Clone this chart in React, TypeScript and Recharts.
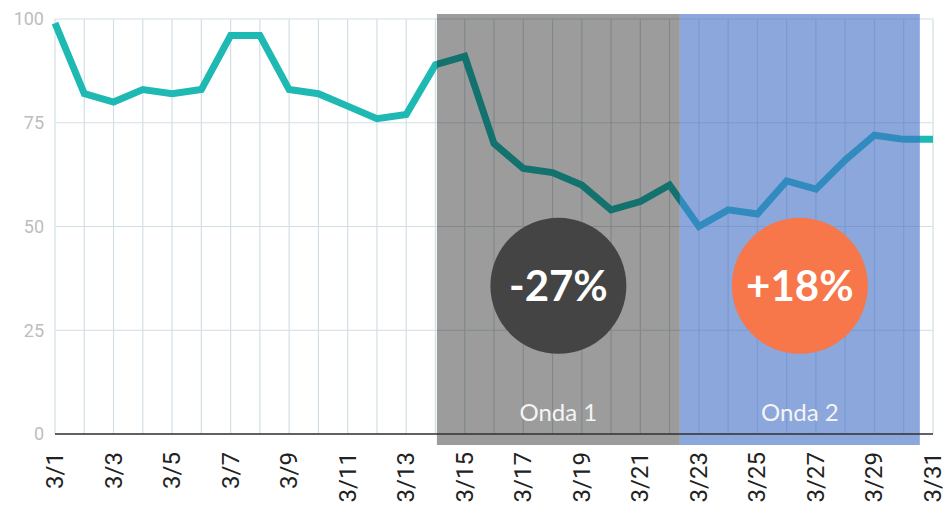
import React from 'react';
import { LineChart, Line, XAxis, YAxis, CartesianGrid, ReferenceArea, ReferenceDot } from 'recharts';

const days = [
  '3/1', '3/2', '3/3', '3/4', '3/5', '3/6', '3/7', '3/8', '3/9', '3/10',
  '3/11', '3/12', '3/13', '3/14', '3/15', '3/16', '3/17', '3/18', '3/19', '3/20',
  '3/21', '3/22', '3/23', '3/24', '3/25', '3/26', '3/27', '3/28', '3/29', '3/30', '3/31',
];

const values = [
  99, 82, 80, 83, 82, 83, 96, 96, 83, 82,
  79, 76, 77, 89, 91, 70, 64, 63, 60, 54,
  56, 60, 50, 54, 53, 61, 59, 66, 72, 71, 71,
];

const yTicks = [0, 25, 50, 75, 100];

// the two "waves" (day index, fractional where the band stops between days)
const waveNames = ['Onda 1', 'Onda 2'];
const waveStart = [14.05, 22.35];
const waveEnd = [22.35, 30.55];
const waveChange = ['-27%', '+18%'];
const waveFill = ['#000000', '#3d6cc4'];
const waveOpacity = [0.39, 0.6];
const badgeFill = ['#444444', '#f8774a'];

const data = days.map((label, i) => ({ day: i + 1, label, value: values[i] }));
const dayTicks = days.map((_, i) => i + 1);

const DayTick = ({ x, y, payload }: any) => {
  const i = payload.value - 1;
  if (i % 2 !== 0) return <g />;
  return (
    <text
      x={x}
      y={y}
      transform={`rotate(-90, ${x}, ${y})`}
      textAnchor="end"
      dominantBaseline="central"
      fontSize={24}
      fontFamily="Roboto"
      fill="#222"
    >
      {days[i]}
    </text>
  );
};

export default function App() {
  return (
    <div style={{ position: 'absolute', left: 0, top: 0, background: '#fff' }}>
      <LineChart width={946} height={507} data={data} margin={{ top: 19, right: 13, left: 0, bottom: 0 }}>
        <CartesianGrid stroke="#d2dfe5" strokeWidth={1.2} />
        <XAxis
          dataKey="day"
          type="number"
          domain={[1, 31]}
          ticks={dayTicks}
          interval={0}
          height={73}
          tickLine={false}
          tickMargin={12}
          axisLine={{ stroke: '#333', strokeWidth: 1.5 }}
          tick={<DayTick />}
        />
        <YAxis
          type="number"
          domain={[0, 100]}
          ticks={yTicks}
          width={55}
          axisLine={false}
          tickLine={false}
          tickMargin={5}
          tick={{ fill: '#bdbdbd', fontSize: 18, fontFamily: 'Roboto' }}
        />
        <Line
          type="linear"
          dataKey="value"
          stroke="#1fb9b4"
          strokeWidth={7}
          dot={false}
          activeDot={false}
          isAnimationActive={false}
        />
        {waveNames.map((name, i) => (
          <ReferenceArea
            key={name}
            x1={waveStart[i]}
            x2={waveEnd[i]}
            y1={-2.65}
            y2={101.2}
            ifOverflow="visible"
            fill={waveFill[i]}
            fillOpacity={waveOpacity[i]}
            zIndex={450}
            label={{
              value: name,
              position: 'insideBottom',
              offset: 24,
              fill: '#f4f4f4',
              fontSize: 24,
              fontFamily: 'Lato',
            }}
          />
        ))}
        {waveNames.map((name, i) => (
          <ReferenceDot
            key={name + '-badge'}
            x={(waveStart[i] + waveEnd[i]) / 2}
            y={35.7}
            r={68}
            fill={badgeFill[i]}
            stroke="none"
            ifOverflow="visible"
            zIndex={460}
            label={{
              value: waveChange[i],
              position: 'center',
              fill: '#fff',
              fontSize: 42,
              fontWeight: 700,
              fontFamily: 'Lato',
            }}
          />
        ))}
      </LineChart>
    </div>
  );
}
